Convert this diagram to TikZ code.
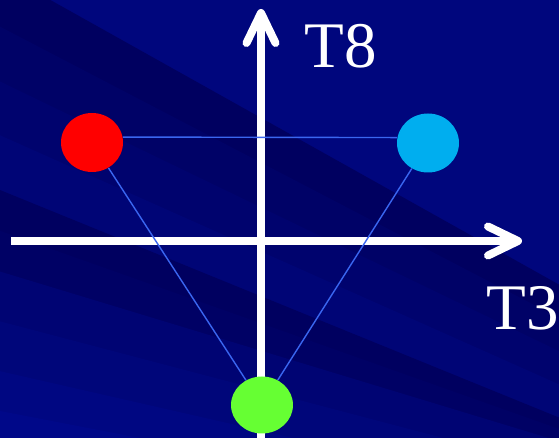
\documentclass[tikz,border=0pt]{standalone}
\usepackage{fontspec}
\setmainfont{Liberation Serif}
\usepackage{tikz}
\usetikzlibrary{arrows.meta,shapes.geometric}
\definecolor{bgdark}{HTML}{000060}
\definecolor{bglight}{HTML}{000A90}
\definecolor{lineblue}{HTML}{3A66F0}
\definecolor{quarkred}{HTML}{FF0000}
\definecolor{quarkblue}{HTML}{00AEEF}
\definecolor{quarkgreen}{HTML}{66FF33}

\begin{document}
\begin{tikzpicture}[x=0.02cm,y=-0.02cm,
  axis/.style={white,line width=0.16cm,-{Straight Barb[length=0.6cm,width=0.58cm,round]}},
  quark/.style={ellipse,draw=none,inner sep=0pt,minimum width=1.24cm,minimum height=1.18cm},
  side/.style={lineblue,line width=0.8pt},
  lbl/.style={white,font=\fontsize{37}{40}\selectfont,inner sep=0pt,anchor=base west}]
  \useasboundingbox (0,0) rectangle (559,438);

  % Background bands
  \begin{scope}
    \clip (0,0) rectangle (559,438);
    \fill[bglight!60!bgdark] (0,0) rectangle (559,438);
    \foreach \la/\ra/\pc in {-31/288/0,24/321/15,79/354/30,133/387/45,188/420/0,229/431/10,
                             270/443/40,320/470/55,370/500/70,410/520/85}
      \fill[bglight!\pc!bgdark] (-5,\la) -- (565,\ra) -- (565,600) -- (-5,600) -- cycle;
  \end{scope}

  % Axes
  \coordinate (xl) at (11,241);
  \coordinate (xr) at (522,241);
  \coordinate (yb) at (261,445);
  \coordinate (yt) at (261,9);
  \draw[axis] (xl) -- (xr);
  \draw[axis] (yb) -- (yt);
  \node[lbl] (t8) at (304,68) {T8};
  \node[lbl] (t3) at (486,330) {T3};

  % Quarks
  \node[quark,fill=quarkred] (qr) at (92,142.5) {};
  \node[quark,fill=quarkblue] (qb) at (428,143) {};
  \node[quark,fill=quarkgreen,minimum height=1.14cm] (qg) at (262,405) {};
  \draw[side] (qr.10) -- (qb.170);
  \draw[side] (qr) -- (qg);
  \draw[side] (qb) -- (qg);
\end{tikzpicture}
\end{document}
